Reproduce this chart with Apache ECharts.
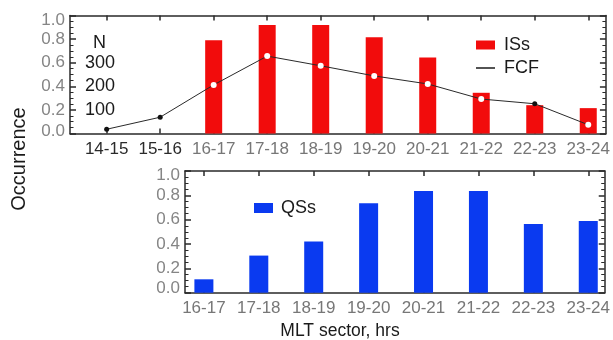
<!DOCTYPE html>
<html>
<head>
<meta charset="utf-8">
<script src="https://cdn.jsdelivr.net/npm/echarts@6/dist/echarts.min.js"></script>
<style>html,body{margin:0;padding:0;background:#fff}#c{width:613px;height:340px}</style>
</head>
<body>
<div id="c"></div>
<script>
// ---- data ----
const topCategories = ['14-15','15-16','16-17','17-18','18-19','19-20','20-21','21-22','22-23','23-24'];
const issValues = [null, null, 0.79, 0.92, 0.92, 0.815, 0.645, 0.345, 0.24, 0.215];
const fcfValues = [18, 69, 206, 328, 287, 244, 210, 146, 126, 37];
const fcfInsideBar = [false, false, true, true, true, true, true, true, false, true];
const bottomCategories = ['16-17','17-18','18-19','19-20','20-21','21-22','22-23','23-24'];
const qssValues = [0.11, 0.305, 0.42, 0.735, 0.835, 0.835, 0.565, 0.59];
const occurrenceTicks = [0, 0.2, 0.4, 0.6, 0.8, 1.0];
const nTicks = [100, 200, 300];

// ---- styles ----
const FONT = 'Liberation Sans, Arial, Helvetica, sans-serif';
const frame = '#2a2a2a';
const gray = '#858585';
const red = '#f20c0c';
const blue = '#0a3af0';

function idx(n){ return Array.from({length:n}, (_, i) => i); }
const topIdx = idx(topCategories.length);
const botIdx = idx(bottomCategories.length);

function xAxisPair(grid, cats, min, max, labelColorFn){
  const ids = idx(cats.length);
  return [
    {
      type:'value', gridIndex:grid, position:'bottom', min:min, max:max,
      axisLine:{show:true, onZero:false, lineStyle:{color:frame, width:1.5}},
      axisTick:{show:true, inside:true, length:5, customValues:ids, lineStyle:{color:frame, width:1.5}},
      axisLabel:{show:true, customValues:ids, margin:7, fontSize:17, fontFamily:FONT,
        color: labelColorFn, formatter: v => cats[Math.round(v)]},
      splitLine:{show:false}
    },
    {
      type:'value', gridIndex:grid, position:'top', min:min, max:max,
      axisLine:{show:true, onZero:false, lineStyle:{color:frame, width:1.5}},
      axisTick:{show:true, inside:true, length:5, customValues:ids, lineStyle:{color:frame, width:1.5}},
      axisLabel:{show:false}, splitLine:{show:false}
    }
  ];
}

function yAxisPair(grid, topPad, botPad){
  const mk = (pos) => ({
    type:'value', gridIndex:grid, min:0, max:1, interval:0.2, position:pos,
    axisLine:{show:true, onZero:false, lineStyle:{color:frame, width:1.5}},
    axisTick:{show:true, inside:true, length:6, lineStyle:{color:frame, width:1.5}},
    minorTick:{show:true, splitNumber:4, length:3.5, lineStyle:{color:frame, width:1}},
    splitLine:{show:false}, minorSplitLine:{show:false}
  });
  const left = mk('left');
  left.axisLabel = {show:true, margin:5, fontSize:17, fontFamily:FONT, color:gray,
    formatter: v => {
      const r = Math.round(v*10)/10;
      if (r === 1) return '{t|1.0}';
      if (r === 0) return '{b|0.0}';
      return r.toFixed(1);
    },
    rich:{
      t:{fontSize:17, fontFamily:FONT, color:gray, padding:[topPad,0,0,0]},
      b:{fontSize:17, fontFamily:FONT, color:gray, padding:[0,0,botPad,0]}
    }};
  const right = mk('right');
  right.axisLabel = {show:false};
  return [left, right];
}

const topX = xAxisPair(0, topCategories, -0.685, 9.33, (v, i) => (Math.round(v) < 2 ? '#2a2a2a' : '#777'));
const botX = xAxisPair(1, bottomCategories, -0.344, 7.3, () => '#777');
const topY = yAxisPair(0, 10, 5);
const botY = yAxisPair(1, 9, 9);
const nAxis = {
  type:'value', gridIndex:0, position:'left', min:0, max:500, interval:100,
  axisLine:{show:false}, axisTick:{show:false}, splitLine:{show:false},
  axisLabel:{show:true, inside:true, margin:15, fontSize:18, fontFamily:FONT, color:'#1a1a1a',
    padding:[3,0,0,0],
    formatter: v => nTicks.includes(v) ? String(v) : ''}
};

const option = {
  animation:false,
  backgroundColor:'#fff',
  grid:[
    {left:70, top:15.5, right:6, height:118},
    {left:185, top:171, right:6, height:121.7}
  ],
  xAxis:[topX[0], topX[1], botX[0], botX[1]],
  yAxis:[topY[0], topY[1], nAxis, botY[0], botY[1]],
  legend:[
    {data:[{name:'ISs', icon:'rect'}], left:471, top:31, itemWidth:19, itemHeight:9,
      textStyle:{fontSize:18, fontFamily:FONT, color:'#1a1a1a', padding:[0,0,0,4]}},
    {data:[{name:'FCF', icon:'rect'}], left:471, top:54, itemWidth:19, itemHeight:1.5,
      textStyle:{fontSize:18, fontFamily:FONT, color:'#1a1a1a', padding:[0,0,0,4]}},
    {data:[{name:'QSs', icon:'rect'}], left:249, top:194, itemWidth:19, itemHeight:10,
      textStyle:{fontSize:18, fontFamily:FONT, color:'#1a1a1a', padding:[0,0,0,3]}}
  ],
  series:[
    {
      name:'ISs', type:'bar', xAxisIndex:0, yAxisIndex:0, barWidth:17,
      itemStyle:{color:red},
      data: topIdx.filter(i => issValues[i] != null).map(i => [i, issValues[i]])
    },
    {
      name:'FCF', type:'line', xAxisIndex:0, yAxisIndex:2, z:5,
      color:'#1a1a1a',
      lineStyle:{color:'#2a2a2a', width:1},
      symbol:'circle', symbolSize:5,
      data: topIdx.map(i => ({value:[i, fcfValues[i]],
        itemStyle:{color: fcfInsideBar[i] ? '#ffffff' : '#111', borderWidth:0},
        symbolSize: fcfInsideBar[i] ? 6 : 5}))
    },
    {
      name:'QSs', type:'bar', xAxisIndex:2, yAxisIndex:3, barWidth:19,
      itemStyle:{color:blue},
      data: botIdx.map(i => [i, qssValues[i]])
    }
  ],
  graphic:[
    {type:'text', left:93, top:34, style:{text:'N', fontSize:18, fontFamily:FONT, fill:'#1a1a1a'}},
    {type:'text', x:19, y:159, rotation:Math.PI/2,
      style:{text:'Occurrence', fontSize:20, fontFamily:FONT, fill:'#1a1a1a', align:'center', verticalAlign:'middle'}},
    {type:'text', x:340, y:331, style:{text:'MLT sector, hrs', fontSize:17.5, fontFamily:FONT, fill:'#1a1a1a', align:'center', verticalAlign:'middle'}}
  ]
};

const chart = echarts.init(document.getElementById('c'), null, {renderer:'canvas'});
chart.setOption(option);
</script>
</body>
</html>
